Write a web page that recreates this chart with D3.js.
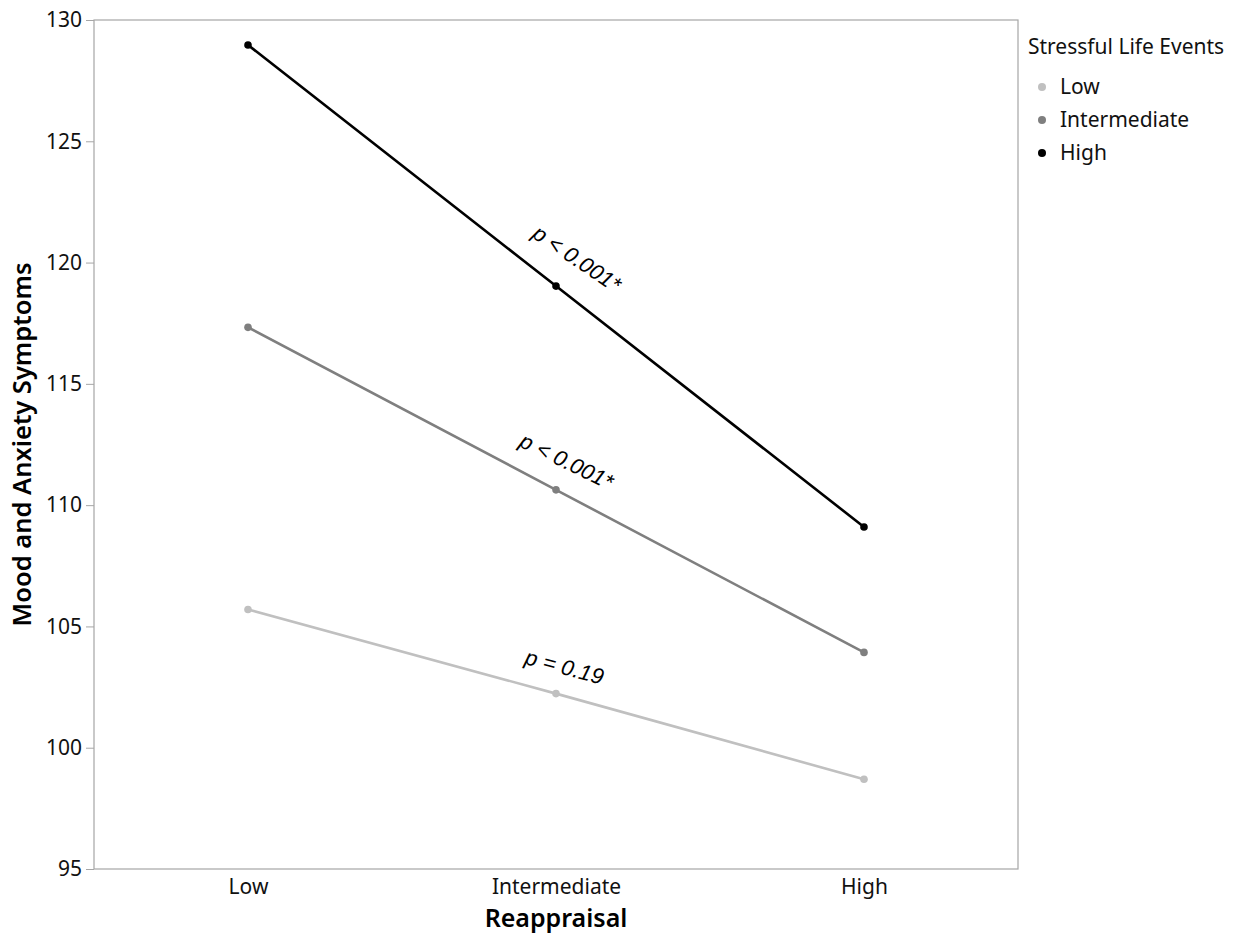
<!DOCTYPE html>
<html><head><meta charset="utf-8">
<script src="https://cdn.jsdelivr.net/npm/d3@7"></script>
<style>body{margin:0;background:#fff}svg{display:block}</style>
</head><body>
<script>
const categories = ["Low", "Intermediate", "High"];
const seriesNames = ["Low", "Intermediate", "High"];
const lowValues = [105.7, 102.23, 98.7];
const intermediateValues = [117.33, 110.63, 103.93];
const highValues = [128.97, 119.03, 109.1];
const yTicks = [95, 100, 105, 110, 115, 120, 125, 130];
const pLabels = ["p = 0.19", "p < 0.001*", "p < 0.001*"];
const colors = ["#c0c0c0", "#7f7f7f", "#000000"];

const W = 1237, H = 937;
const m = {l: 94, r: 219, t: 20, b: 68};
const svg = d3.select("body").append("svg").attr("width", W).attr("height", H);
const font = "'Noto Sans', 'Open Sans', sans-serif";

const x = d3.scalePoint().domain(categories).range([m.l, W - m.r]).padding(0.5);
const y = d3.scaleLinear().domain([95, 130]).range([H - m.b, m.t]);

// frame
svg.append("rect").attr("x", m.l).attr("y", m.t).attr("width", W - m.r - m.l).attr("height", H - m.b - m.t)
  .attr("fill", "none").attr("stroke", "#a6a6a6").attr("stroke-width", 1.2);

const ya = svg.append("g").attr("transform", `translate(${m.l},0)`)
  .call(d3.axisLeft(y).tickValues(yTicks).tickSize(8).tickPadding(4));
ya.select(".domain").remove();
ya.selectAll("line").attr("stroke", "#a6a6a6");
ya.selectAll("text").attr("font-family", font).attr("font-size", 21).attr("fill", "#111");

const xa = svg.append("g").attr("transform", `translate(0,${H - m.b})`)
  .call(d3.axisBottom(x).tickSize(0).tickPadding(10));
xa.select(".domain").remove();
xa.selectAll("text").attr("font-family", font).attr("font-size", 21).attr("fill", "#111");

svg.append("text").attr("x", x("Intermediate")).attr("y", 927).attr("text-anchor", "middle")
  .attr("font-family", font).attr("font-size", 25).attr("font-weight", 600).text("Reappraisal");
svg.append("text").attr("transform", `translate(31,${(m.t + H - m.b) / 2}) rotate(-90)`)
  .attr("text-anchor", "middle").attr("font-family", font).attr("font-size", 25.5).attr("font-weight", 600)
  .text("Mood and Anxiety Symptoms");

const series = [lowValues, intermediateValues, highValues];
const line = d3.line().x((d, i) => x(categories[i])).y(d => y(d));
series.forEach((vals, s) => {
  svg.append("path").datum(vals).attr("d", line).attr("fill", "none")
    .attr("stroke", colors[s]).attr("stroke-width", 2.6);
  svg.selectAll(null).data(vals).enter().append("circle")
    .attr("cx", (d, i) => x(categories[i])).attr("cy", d => y(d)).attr("r", 3.8).attr("fill", colors[s]);
});

// p annotations
const rot = [15, 26, 34];
const off = [[8, -25], [10, -27], [20, -26]];
series.forEach((vals, s) => {
  const cx = x(categories[1]) + off[s][0], cy = y(vals[1]) + off[s][1];
  svg.append("text").attr("transform", `translate(${cx},${cy}) rotate(${rot[s]})`)
    .attr("text-anchor", "middle").attr("dominant-baseline", "middle")
    .attr("font-family", "'Liberation Sans', Arial, sans-serif").attr("font-style", "italic")
    .attr("font-size", 22).attr("fill", "#000").text(pLabels[s]);
});

// legend
svg.append("text").attr("x", 1028).attr("y", 54).attr("font-family", font).attr("font-size", 21)
  .attr("fill", "#111").text("Stressful Life Events");
seriesNames.forEach((n, i) => {
  const yy = 87 + i * 33;
  svg.append("circle").attr("cx", 1042).attr("cy", yy).attr("r", 4).attr("fill", colors[i]);
  svg.append("text").attr("x", 1060).attr("y", yy + 7).attr("font-family", font).attr("font-size", 21)
    .attr("fill", "#111").text(n);
});
</script>
</body></html>
